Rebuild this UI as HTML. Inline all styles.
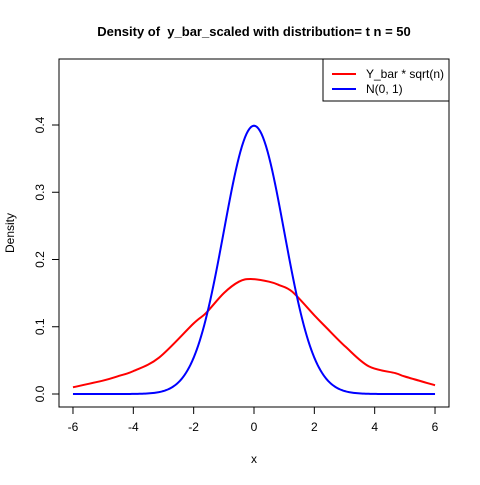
<!DOCTYPE html>
<html><head><meta charset="utf-8"><style>
body{margin:0;background:#fff}
svg text{font-family:"Liberation Sans",Arial,sans-serif;fill:#000}
</style></head><body>
<svg id="c" width="480" height="480" xmlns="http://www.w3.org/2000/svg">
<rect width="480" height="480" fill="#fff"/>
<text x="254" y="36" font-size="13" font-weight="bold" text-anchor="middle" xml:space="preserve" style="white-space:pre">Density of  y_bar_scaled with distribution= t n = 50</text>
<text x="254" y="463" font-size="12" text-anchor="middle">x</text>
<text x="14" y="233" font-size="12" text-anchor="middle" transform="rotate(-90 14 233)">Density</text>
<rect x="59" y="59" width="390" height="348" fill="none" stroke="#000"/>
<g id="axes"></g>
<g id="series"></g>
<g>
<rect x="323" y="59" width="126" height="42" fill="#fff" stroke="#000"/>
<line x1="332" y1="74" x2="356" y2="74" stroke="#f00" stroke-width="2"/>
<text x="366" y="78" font-size="12">Y_bar * sqrt(n)</text>
<line x1="332" y1="89" x2="356" y2="89" stroke="#00f" stroke-width="2"/>
<text x="366" y="93" font-size="12">N(0, 1)</text>
</g>
</svg>
<script>
const xTicks=[-6,-4,-2,0,2,4,6];
const yTicks=[0.0,0.1,0.2,0.3,0.4];
const yTickLabels=["0.0","0.1","0.2","0.3","0.4"];
const redX=[-6,-5,-4.47,-4,-3.15,-2,-1.6,-1,-0.5,-0.11,0.5,0.83,1.27,2,2.37,3.04,3.81,4.69,5,6];
const redY=[0.010,0.020,0.027,0.034,0.054,0.105,0.12,0.150,0.167,0.171,0.167,0.162,0.152,0.117,0.10,0.070,0.041,0.031,0.026,0.013];
const normX=[];for(let v=-6;v<=6.0001;v+=0.05)normX.push(+v.toFixed(2));
const normY=normX.map(v=>Math.exp(-v*v/2)/Math.sqrt(2*Math.PI));
const NS="http://www.w3.org/2000/svg";
const sx=v=>254+v*30.17, sy=v=>394-v*672.5;
const ax=document.getElementById('axes'), se=document.getElementById('series');
function mk(t,a,p){const e=document.createElementNS(NS,t);for(const k in a)e.setAttribute(k,a[k]);p.appendChild(e);return e;}
let l=mk('line',{x1:sx(-6),x2:sx(6),y1:407,y2:407,stroke:'#000'},ax);


xTicks.forEach(v=>{
 const t=mk('line',{x1:sx(v),x2:sx(v),y1:407,y2:414,stroke:'#000'},ax);
 
 
 const tx=mk('text',{x:sx(v),y:431,'font-size':12,'text-anchor':'middle'},ax);tx.textContent=v;
 
 
});
l=mk('line',{x1:59,x2:59,y1:sy(0),y2:sy(0.4),stroke:'#000'},ax);


yTicks.forEach((v,i)=>{
 const t=mk('line',{x1:52,x2:59,y1:sy(v),y2:sy(v),stroke:'#000'},ax);
 
 
 const tx=mk('text',{x:44,y:sy(v),'font-size':12,'text-anchor':'middle',transform:`rotate(-90 44 ${sy(v)})`},ax);tx.textContent=yTickLabels[i];
 
 
});
function smooth(xs,ys){
 const p=xs.map((x,i)=>[sx(x),sy(ys[i])]);
 let d=`M${p[0][0]},${p[0][1]}`;
 for(let i=0;i<p.length-1;i++){
  const p0=p[i-1]||p[i],p1=p[i],p2=p[i+1],p3=p[i+2]||p2;
  const c1=[p1[0]+(p2[0]-p0[0])/6,p1[1]+(p2[1]-p0[1])/6];
  const c2=[p2[0]-(p3[0]-p1[0])/6,p2[1]-(p3[1]-p1[1])/6];
  d+=`C${c1[0]},${c1[1]} ${c2[0]},${c2[1]} ${p2[0]},${p2[1]}`;
 }
 return d;
}
const red=mk('path',{d:smooth(redX,redY),fill:'none',stroke:'#f00','stroke-width':2},se);


const blue=mk('path',{d:normX.map((x,i)=>(i?'L':'M')+sx(x)+','+sy(normY[i])).join(''),fill:'none',stroke:'#00f','stroke-width':2},se);


</script>
</body></html>
